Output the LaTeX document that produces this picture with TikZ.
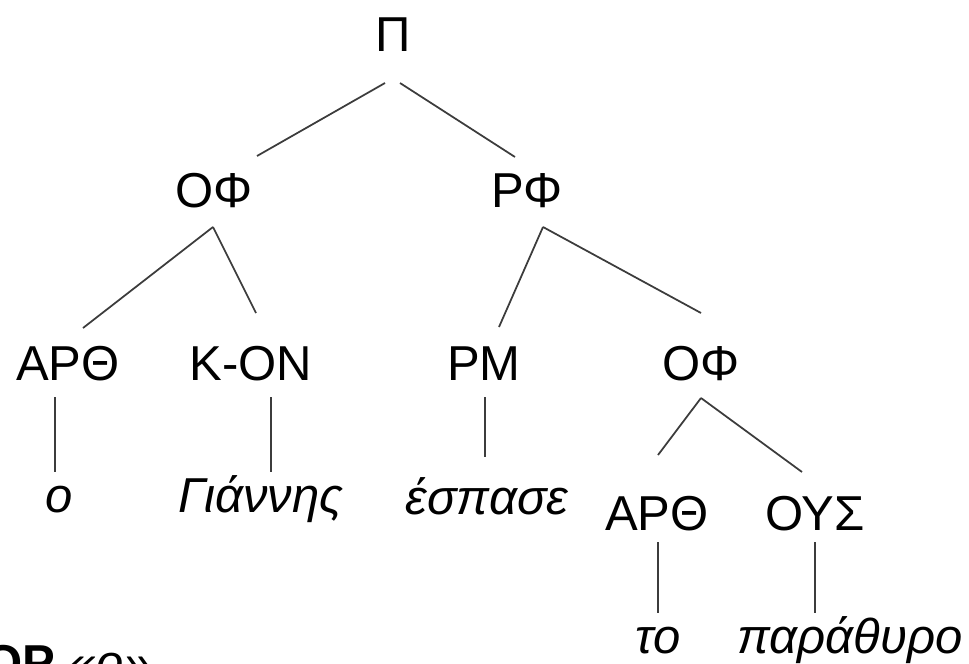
\documentclass[tikz,border=0pt]{standalone}
\usepackage{fontspec}
\setmainfont{Liberation Sans}
\usepackage{tikz}
\usetikzlibrary{calc}
\definecolor{branchcolor}{RGB}{60,60,60}
\tikzset{
    cat/.style={anchor=base, inner sep=0pt, font=\fontsize{27.9}{33}\selectfont},
    word/.style={cat, font=\fontsize{27.9}{33}\selectfont\itshape},
    branch/.style={draw=branchcolor, line width=1pt}
}

\begin{document}
\begin{tikzpicture}[x=0.02cm, y=-0.02cm]
    \useasboundingbox (0, 0) rectangle (969, 663);

    \node[cat] (pi) at (393, 51) {Π};

    \node[cat] (of1) at (214, 207) {ΟΦ};
    \node[cat] (rf) at (527, 207) {ΡΦ};

    \node[cat] (art1) at (68, 380) {ΑΡΘ};
    \node[cat] (kon) at (251, 380) {Κ-ΟΝ};
    \node[cat] (rm) at (484, 380) {ΡΜ};
    \node[cat] (of2) at (701, 380) {ΟΦ};

    \node[word] (o) at (59, 512) {ο};
    \node[word] (gian) at (261, 512) {Γιάννης};
    \node[word] (esp) at (487, 514) {έσπασε};

    \node[cat] (art2) at (657, 530) {ΑΡΘ};
    \node[cat] (ous) at (815, 530) {ΟΥΣ};

    \node[word] (to) at (658, 653) {το};
    \node[word] (par) at (850, 653) {παράθυρο};

    \node[cat, anchor=base west] (note) at (-16, 679) {\textbf{ΟΡ} \textit{«ο»}};

    % branches
    \draw[branch] ($(pi.base)+(-8, 32)$) -- ($(of1.base)+(43, -51)$);
    \draw[branch] ($(pi.base)+(7, 32)$) -- ($(rf.base)+(-12, -50)$);

    \draw[branch] ($(of1.base)+(-1, 20)$) -- ($(art1.base)+(15, -52)$);
    \draw[branch] ($(of1.base)+(-1, 20)$) -- ($(kon.base)+(5, -67)$);
    \draw[branch] ($(rf.base)+(16, 20)$) -- ($(rm.base)+(15, -53)$);
    \draw[branch] ($(rf.base)+(16, 20)$) -- ($(of2.base)+(0, -67)$);

    \draw[branch] ($(of2.base)+(0, 18)$) -- ($(art2.base)+(1, -75)$);
    \draw[branch] ($(of2.base)+(0, 18)$) -- ($(ous.base)+(-13, -58)$);

    % lexical items
    \draw[branch] ($(art1.base)+(-13, 17)$) -- ($(o.base)+(-4, -40)$);
    \draw[branch] ($(kon.base)+(20, 17)$) -- ($(gian.base)+(10, -40)$);
    \draw[branch] ($(rm.base)+(1, 17)$) -- ($(esp.base)+(-2, -57)$);
    \draw[branch] ($(art2.base)+(1, 12)$) -- ($(to.base)+(0, -40)$);
    \draw[branch] ($(ous.base)+(0, 12)$) -- ($(par.base)+(-35, -40)$);
\end{tikzpicture}
\end{document}
